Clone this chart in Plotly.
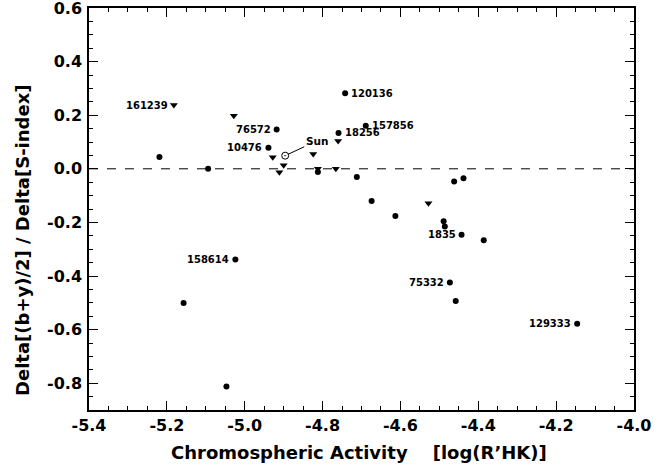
import plotly.graph_objects as go

# Filled circles (stars)
circ_x = [-5.219, -5.094, -4.939, -4.918, -4.812, -4.759, -4.742, -4.712, -4.689,
          -4.674, -4.613, -4.489, -4.486, -4.462, -4.443, -4.438, -4.386, -4.473,
          -4.458, -4.146, -5.024, -5.157, -5.047]
circ_y = [0.044, 0.000, 0.079, 0.147, -0.012, 0.134, 0.282, -0.031, 0.161,
          -0.120, -0.176, -0.196, -0.215, -0.047, -0.246, -0.035, -0.267, -0.424,
          -0.493, -0.578, -0.338, -0.501, -0.812]

# Down triangles
tri_x = [-5.182, -5.028, -4.928, -4.900, -4.911, -4.824, -4.812, -4.766, -4.760, -4.528]
tri_y = [0.238, 0.198, 0.043, 0.013, -0.013, 0.055, 0.000, 0.000, 0.104, -0.129]

# Sun
sun_x = [-4.896]
sun_y = [0.049]

# Star labels: name, x, y, side
lab_names = ["161239", "76572", "10476", "120136", "18256", "157856",
             "158614", "1835", "75332", "129333"]
lab_x = [-5.182, -4.918, -4.939, -4.742, -4.759, -4.689, -5.024, -4.443, -4.473, -4.146]
lab_y = [0.238, 0.147, 0.079, 0.282, 0.134, 0.161, -0.338, -0.246, -0.424, -0.578]
lab_side = ["left", "left", "left", "right", "right", "right", "left", "left", "left", "left"]

# Tick values / labels
x_ticks = [-5.4, -5.2, -5.0, -4.8, -4.6, -4.4, -4.2, -4.0]
x_ticklabels = ["-5.4", "-5.2", "-5.0", "-4.8", "-4.6", "-4.4", "-4.2", "-4.0"]
y_ticks = [0.6, 0.4, 0.2, 0.0, -0.2, -0.4, -0.6, -0.8]
y_ticklabels = ["0.6", "0.4", "0.2", "0.0", "-0.2", "-0.4", "-0.6", "-0.8"]

x_title = "Chromospheric Activity\u00a0\u00a0\u00a0\u00a0[log(R\u2019HK)]"
y_title = "Delta[(b+y)/2] / Delta[S-index]"

FONT = "DejaVu Sans"

fig = go.Figure()
fig.add_trace(go.Scatter(x=circ_x, y=circ_y, mode="markers",
                         marker=dict(symbol="circle", size=6, color="black"),
                         showlegend=False, hoverinfo="skip"))
fig.add_trace(go.Scatter(x=tri_x, y=tri_y, mode="markers",
                         marker=dict(symbol="triangle-down", size=7, color="black"),
                         showlegend=False, hoverinfo="skip"))
fig.add_trace(go.Scatter(x=sun_x, y=sun_y, mode="markers",
                         marker=dict(symbol="circle-open-dot", size=7, color="black",
                                     line=dict(width=1, color="black")),
                         showlegend=False, hoverinfo="skip"))

# zero line
fig.add_shape(type="line", xref="paper", x0=0, x1=1, yref="y", y0=0, y1=0,
              line=dict(color="black", width=1, dash="dash"))

for n, x, y, s in zip(lab_names, lab_x, lab_y, lab_side):
    fig.add_annotation(x=x, y=y, text=n, showarrow=False,
                       xanchor="right" if s == "left" else "left",
                       xshift=-4 if s == "left" else 4, yanchor="middle",
                       font=dict(family=FONT, size=10, color="black", weight="bold"))

fig.add_annotation(x=sun_x[0], y=sun_y[0], text="Sun", showarrow=True,
                   arrowhead=0, arrowwidth=1, arrowcolor="black", standoff=3,
                   ax=32, ay=-15,
                   font=dict(family=FONT, size=10.5, color="black", weight="bold"))

# axis titles as annotations (positioned like the original)
fig.add_annotation(xref="paper", yref="paper", x=0.495, y=-0.105, text=x_title,
                   showarrow=False, xanchor="center", yanchor="middle",
                   font=dict(family=FONT, size=18, color="black", weight="bold"))
fig.add_annotation(xref="paper", yref="paper", x=-0.121, y=0.423, text=y_title,
                   showarrow=False, xanchor="center", yanchor="middle", textangle=-90,
                   font=dict(family=FONT, size=18, color="black", weight="bold"))

axis_common = dict(showgrid=False, zeroline=False, showline=True, linecolor="black",
                   linewidth=1.5, mirror="ticks", ticks="inside", ticklen=9,
                   tickwidth=1.2, tickcolor="black", automargin=False,
                   ticklabeloverflow="allow",
                   tickfont=dict(family=FONT, size=16, color="black", weight="bold"))

fig.update_xaxes(range=[-5.4, -4.0], tickmode="array", tickvals=x_ticks, ticktext=x_ticklabels,
                 minor=dict(dtick=0.05, tick0=-5.4, ticks="inside", ticklen=4,
                            tickcolor="black", tickwidth=1),
                 ticklabelstandoff=0,
                 **axis_common)
fig.update_yaxes(range=[-0.9, 0.6], tickmode="array", tickvals=y_ticks, ticktext=y_ticklabels,
                 minor=dict(dtick=0.05, tick0=0.0, ticks="inside", ticklen=4,
                            tickcolor="black", tickwidth=1),
                 ticklabelstandoff=2,
                 **axis_common)

fig.update_layout(width=667, height=470, plot_bgcolor="white", paper_bgcolor="white",
                  margin=dict(l=89, r=33, t=8, b=60), showlegend=False, hovermode=False)

fig.write_html("out.html", config={"displayModeBar": False},
               post_script="document.body.style.margin='0';")
